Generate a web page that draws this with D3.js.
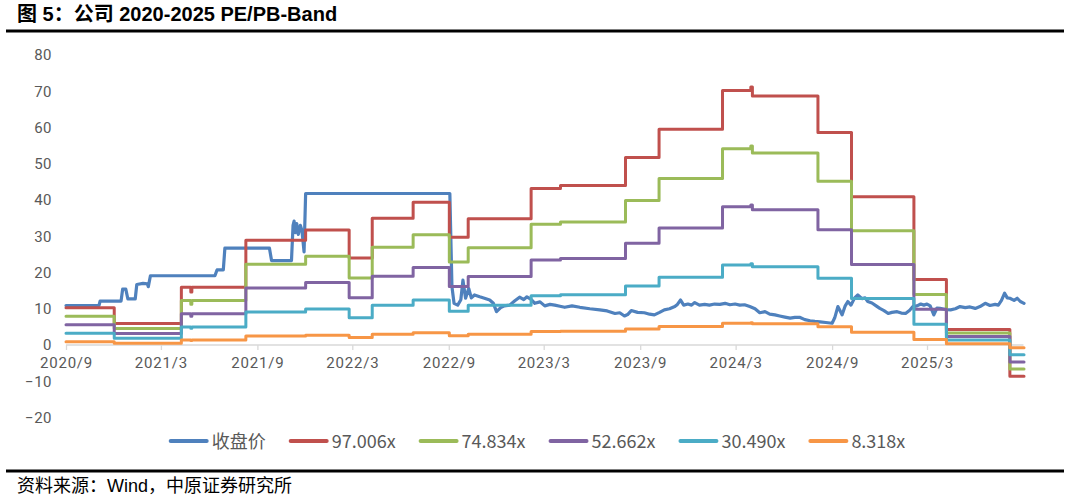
<!DOCTYPE html>
<html><head><meta charset="utf-8">
<script src="https://cdn.jsdelivr.net/npm/d3@7"></script>
<style>
html,body{margin:0;padding:0;background:#fff;}
svg{display:block;}
</style></head><body>
<svg id="chart" width="1069" height="502"></svg>
<script>
// ---------- DATA ----------
const seriesNames = ["收盘价","97.006x","74.834x","52.662x","30.490x","8.318x"];
const xTickLabels = ["2020/9","2021/3","2021/9","2022/3","2022/9","2023/3","2023/9","2024/3","2024/9","2025/3"];
const yTicks = [-20,-10,0,10,20,30,40,50,60,70,80];

const priceDates = ["2020-09-01","2020-11-03","2020-11-05","2020-12-15","2020-12-18","2020-12-24","2020-12-28","2021-01-11","2021-01-14","2021-01-26","2021-02-03","2021-02-05","2021-02-09","2021-06-12","2021-06-16","2021-06-28","2021-07-01","2021-09-24","2021-09-28","2021-11-05","2021-11-08","2021-11-10","2021-11-12","2021-11-15","2021-11-18","2021-11-22","2021-11-25","2021-11-29","2021-12-02","2022-09-03",
"2022-09-07","2022-09-11","2022-09-18","2022-09-24","2022-09-28","2022-10-03","2022-10-09","2022-10-14","2022-10-20","2022-10-30","2022-11-08","2022-11-18","2022-11-25","2022-12-01","2022-12-09","2022-12-16","2022-12-26","2023-01-05","2023-01-14","2023-01-22","2023-01-28","2023-02-05","2023-02-12","2023-02-22","2023-03-03","2023-03-13","2023-03-22","2023-04-01","2023-04-10","2023-04-24","2023-05-09","2023-05-28","2023-06-16","2023-06-30","2023-07-15","2023-07-24","2023-08-02","2023-08-08","2023-08-15","2023-08-27","2023-09-09","2023-09-19","2023-09-28","2023-10-08","2023-10-17","2023-10-27","2023-11-06","2023-11-11","2023-11-17","2023-11-23","2023-12-01","2023-12-08","2023-12-14","2023-12-23","2024-01-02","2024-01-11","2024-01-21","2024-01-31","2024-02-10","2024-02-19","2024-02-29","2024-03-09","2024-03-18","2024-03-28","2024-04-07","2024-04-16","2024-04-26","2024-05-05","2024-05-15","2024-05-24","2024-06-03","2024-06-13","2024-06-22","2024-07-02","2024-07-11","2024-07-21","2024-07-30","2024-08-09","2024-08-20","2024-09-01","2024-09-06","2024-09-12","2024-09-16","2024-09-20","2024-09-26","2024-10-01","2024-10-07","2024-10-14","2024-10-20","2024-10-28","2024-11-03","2024-11-08","2024-11-16","2024-11-24","2024-12-01","2024-12-09","2024-12-17","2024-12-24","2025-01-03","2025-01-11","2025-01-19","2025-01-27","2025-02-02","2025-02-10","2025-02-17","2025-02-23","2025-03-01","2025-03-07","2025-03-14","2025-03-20","2025-03-26","2025-04-05","2025-04-15","2025-04-24","2025-05-03","2025-05-13","2025-05-22","2025-06-01","2025-06-10","2025-06-20","2025-06-29","2025-07-09","2025-07-15","2025-07-21","2025-07-27","2025-08-01","2025-08-06","2025-08-14","2025-08-20","2025-08-26","2025-09-02"];
const priceValues = [10.9,10.9,12.1,12.1,15.4,15.4,12.7,12.7,16.7,17.0,16.9,16.1,19.1,19.1,20.7,20.7,26.7,26.7,23.3,23.3,33.0,34.2,31.0,33.5,30.5,33.0,31.5,25.7,41.8,41.8,
16.1,11.5,11.0,12.5,17.9,12.9,15.6,13.0,13.8,13.3,12.9,12.4,11.5,9.2,10.3,10.8,11.0,12.2,13.2,12.5,13.3,12.6,11.5,11.9,10.8,11.2,11.0,10.7,10.4,10.8,10.4,10.0,9.7,9.4,8.7,8.9,8.0,8.4,9.5,9.0,8.9,8.5,8.3,9.0,9.7,10.0,10.6,11.2,12.4,11.0,11.3,11.0,11.7,11.0,11.2,11.0,11.3,11.2,11.5,11.1,11.3,11.0,11.1,10.6,10.0,8.9,9.2,8.5,8.3,8.0,7.7,7.4,7.6,7.6,7.0,6.7,6.5,6.4,6.2,6.0,7.5,10.6,9.5,8.3,10.8,12.0,11.0,13.0,13.8,12.8,13.0,12.0,11.6,10.8,10.1,9.5,8.7,9.0,9.2,8.8,8.7,9.6,10.6,10.8,11.3,11.0,11.3,10.8,8.3,10.2,10.1,9.8,9.7,10.0,10.6,10.3,10.5,10.1,10.6,11.5,10.9,11.2,11.0,12.3,14.3,13.0,12.9,12.3,12.9,12.0,11.5];

const bandDates = ["2020-09-01","2020-12-02","2021-04-09","2021-04-27","2021-04-29","2021-08-10","2021-12-02","2022-02-23","2022-04-08","2022-06-25","2022-09-02","2022-10-08","2023-02-05","2023-04-02","2023-08-04","2023-10-07","2024-02-05","2024-03-30","2024-04-02","2024-08-05","2024-10-08","2025-02-04","2025-04-07","2025-08-06","2025-09-02"];
const band97 = [10.3,5.9,15.9,14.6,15.9,28.9,31.7,24.0,35.0,39.4,29.7,34.8,43.2,44.0,51.7,59.5,70.2,71.2,68.7,58.6,40.9,18.1,4.3,-8.6,-8.6];
const band75 = [7.95,4.55,12.27,11.26,12.27,22.29,24.45,18.51,27.0,30.39,22.91,26.85,33.33,33.94,39.88,45.9,54.15,54.92,52.99,45.2,31.55,13.96,3.32,-6.63,-6.63];
const band53 = [5.59,3.2,8.63,7.93,8.63,15.69,17.21,13.03,19.0,21.39,16.12,18.89,23.45,23.89,28.07,32.3,38.11,38.65,37.3,31.81,22.2,9.83,2.33,-4.67,-4.67];
const band30 = [3.24,1.85,5.0,4.59,5.0,9.08,9.96,7.54,11.0,12.38,9.34,10.94,13.58,13.83,16.25,18.7,22.06,22.38,21.59,18.42,12.86,5.69,1.35,-2.7,-2.7];
const band8 = [0.88,0.51,1.36,1.25,1.36,2.48,2.72,2.06,3.0,3.38,2.55,2.98,3.7,3.77,4.43,5.1,6.02,6.11,5.89,5.02,3.51,1.55,0.37,-0.74,-0.74];

// ---------- STYLE ----------
const colors = ["#4F81BD","#C0504D","#9BBB59","#8064A2","#4BACC6","#F79646"];
const textColor = "#595959";
const axisFont = "Roboto, 'Noto Sans CJK SC', sans-serif";
const legendFont = "'Noto Sans CJK SC', sans-serif";

// ---------- CHART ----------
const svg = d3.select("#chart");
const parse = d3.utcParse("%Y-%m-%d");

const x = d3.scaleUtc()
  .domain([parse("2020-09-01"), parse("2025-09-01")])
  .range([66, 1023.5]);
const y = d3.scaleLinear().domain([-20, 80]).range([417.5, 55]);

// title
svg.append("text")
  .attr("x", 17).attr("y", 21)
  .attr("font-family", "'Liberation Sans', Arial, 'Noto Sans CJK SC', sans-serif")
  .attr("font-weight", "bold").attr("font-size", 20).attr("fill", "#000")
  .text("图 5：公司 2020-2025 PE/PB-Band");
svg.append("rect").attr("x", 6).attr("y", 29.5).attr("width", 1058).attr("height", 3).attr("fill", "#000");
svg.append("rect").attr("x", 6).attr("y", 469.5).attr("width", 1058).attr("height", 3).attr("fill", "#000");
svg.append("text")
  .attr("x", 17).attr("y", 492)
  .attr("font-family", "'Liberation Sans', Arial, 'Noto Sans CJK SC', sans-serif")
  .attr("font-size", 18).attr("fill", "#000")
  .text("资料来源：Wind，中原证券研究所");

// y axis labels
const yAxis = d3.axisLeft(y).tickValues(yTicks).tickSize(0).tickPadding(0);
const gy = svg.append("g").attr("transform", "translate(52,0)").call(yAxis);
gy.select(".domain").remove();
gy.selectAll("text").attr("font-family", axisFont).attr("font-size", 15).attr("fill", textColor)
  .attr("letter-spacing", "0.5px");

// x axis
const xTickDates = xTickLabels.map(s => { const [yy, mm] = s.split("/").map(Number); return new Date(Date.UTC(yy, mm - 1, 1)); });
const xAxis = d3.axisBottom(x).tickValues(xTickDates).tickSize(5)
  .tickFormat((d, i) => xTickLabels[i]);
const gx = svg.append("g").attr("transform", `translate(0,${y(0)})`).call(xAxis);
gx.select(".domain").attr("stroke", "#d9d9d9").attr("stroke-width", 1.3).attr("d", `M66,0H1023.5`);
gx.selectAll(".tick line").attr("stroke", "#d9d9d9").attr("stroke-width", 1.3);
gx.selectAll("text").attr("font-family", axisFont).attr("font-size", 15).attr("fill", textColor)
  .attr("letter-spacing", "0.8px").attr("y", 23).attr("dy", null);

// series
const priceData = priceDates.map((d, i) => ({ date: parse(d), v: priceValues[i] }));
const bands = [band97, band75, band53, band30, band8];

const linePrice = d3.line().x(d => x(d.date)).y(d => y(d.v)).curve(d3.curveLinear);
const lineBand = d3.line().x(d => x(d.date)).y(d => y(d.v)).curve(d3.curveStepAfter);

svg.append("path").datum(priceData)
  .attr("d", linePrice).attr("fill", "none").attr("stroke", colors[0])
  .attr("stroke-width", 3.2).attr("stroke-linejoin", "round").attr("stroke-linecap", "round");

bands.forEach((b, k) => {
  const data = bandDates.map((d, i) => ({ date: parse(d), v: b[i] }));
  svg.append("path").datum(data)
    .attr("d", lineBand).attr("fill", "none").attr("stroke", colors[k + 1])
    .attr("stroke-width", 3).attr("stroke-linejoin", "round").attr("stroke-linecap", "round");
});

// legend
const lg = svg.append("g");
let cx = 0;
seriesNames.forEach((n, i) => {
  const g = lg.append("g").attr("transform", `translate(${cx},0)`);
  g.append("line").attr("x1", 2).attr("x2", 38).attr("y1", 0).attr("y2", 0)
    .attr("stroke", colors[i]).attr("stroke-width", 4).attr("stroke-linecap", "round");
  const t = g.append("text").attr("x", 43).attr("y", 6.5)
    .attr("font-family", legendFont).attr("font-size", 18).attr("fill", textColor).text(n);
  cx += 43 + t.node().getComputedTextLength() + 23;
});
const totalW = cx - 23;
lg.attr("transform", `translate(${537 - totalW / 2},441)`);
</script>
</body></html>
